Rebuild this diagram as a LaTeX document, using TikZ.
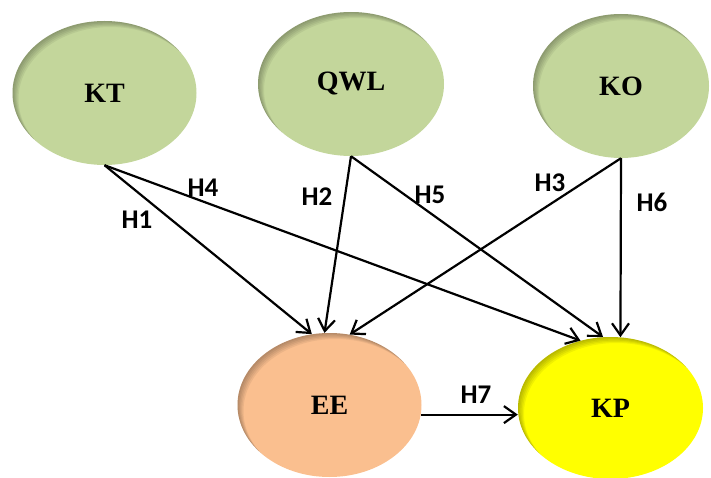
\documentclass[tikz,border=0pt]{standalone}
\usepackage{fontspec}
\setmainfont{Liberation Serif}
\newfontfamily\lblfont{Carlito}
\usetikzlibrary{shapes.geometric,arrows.meta}
\definecolor{cgreen}{RGB}{195,214,155}
\definecolor{corange}{RGB}{250,191,143}
\definecolor{cyellow}{RGB}{255,255,0}
\tikzset{
  myell/.style n args={3}{ellipse, fill=#3, inner sep=0pt,
    minimum width=2*#1, minimum height=2*#2,
    font=\fontsize{28}{30}\selectfont\bfseries,
    path picture={
      \foreach \s in {1.5,3,4.5,6,7.5}{
        \fill[black, opacity=0.06, even odd rule]
          ([shift={(-20pt,-20pt)}]path picture bounding box.south west) rectangle
          ([shift={(20pt,20pt)}]path picture bounding box.north east)
          ([shift={(\s*0.8pt,-\s*0.8pt)}]path picture bounding box.center)
            ellipse [x radius=#1, y radius=#2];
      }
    }},
  hlabel/.style={font=\lblfont\fontsize{27}{29}\selectfont\bfseries, inner sep=0pt},
  conn/.style={line width=2.2pt, -{Straight Barb[length=12pt,width=17pt,line width=2.2pt]}}
}
\begin{document}
\begin{tikzpicture}[x=1pt,y=-1pt]
\useasboundingbox (0,0) rectangle (711,478);
\node[myell={92pt}{72pt}{cgreen}] (KT) at (104.5,93) {KT};
\node[myell={93pt}{72pt}{cgreen}] (QWL) at (351,84) {QWL};
\node[myell={88pt}{72pt}{cgreen}] (KO) at (621,86) {KO};
\node[myell={92pt}{72pt}{corange}] (EE) at (329.5,405) {EE};
\node[myell={92.5pt}{71pt}{cyellow}] (KP) at (610.5,408) {KP};

\draw[conn] (KT.south) -- (EE.104);
\draw[conn] (KT.south) -- (KP.114);
\draw[conn] (QWL.south) -- (EE.94);
\draw[conn] (QWL.south) -- (KP.96);
\draw[conn] (KO.south) -- (EE.74);
\draw[conn] (KO.south) -- (KP.82);
\draw[conn] (EE.-6) -- (EE.-6 -| KP.west);

\node[hlabel] (h1) at (137,220) {H1};
\node[hlabel] (h4) at (203,188) {H4};
\node[hlabel] (h2) at (317,197) {H2};
\node[hlabel] (h5) at (430,195) {H5};
\node[hlabel] (h3) at (550,183) {H3};
\node[hlabel] (h6) at (652,202) {H6};
\node[hlabel] (h7) at (476,395) {H7};
\end{tikzpicture}
\end{document}
